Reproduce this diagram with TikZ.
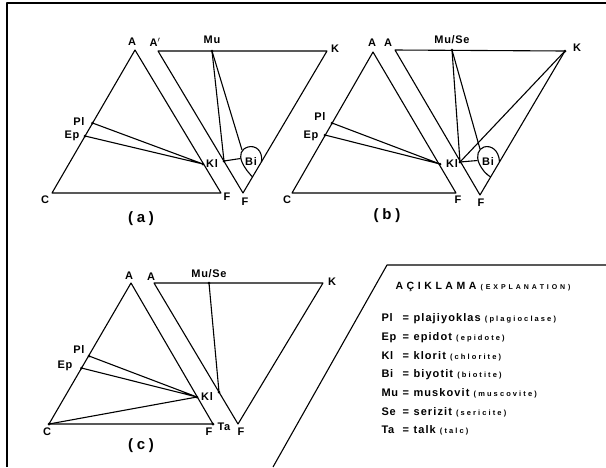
\documentclass[tikz,border=0pt]{standalone}
\usepackage{fontspec}
\setmainfont{Liberation Sans}
\newfontfamily\lblfont[LetterSpace=6]{Liberation Sans Bold}
\newfontfamily\capfont[LetterSpace=25]{Liberation Sans Bold}
\newfontfamily\headfont{Liberation Sans Bold}
\newfontfamily\notefont[LetterSpace=28]{Liberation Sans Bold}
\newfontfamily\wordfont[LetterSpace=10]{Liberation Sans Bold}

\tikzset{
  lbl/.style={inner sep=0pt, font=\lblfont\fontsize{11}{13}\selectfont},
  figcap/.style={inner sep=0pt, font=\capfont\fontsize{15}{17}\selectfont},
  legsym/.style={inner sep=0pt, anchor=base west, font=\lblfont\fontsize{11}{13}\selectfont},
  legword/.style={inner sep=0pt, anchor=base west, font=\wordfont\fontsize{11}{13}\selectfont},
}
\newcommand{\note}[1]{{\notefont\fontsize{7.5}{9}\selectfont(#1)}}

\begin{document}
\begin{tikzpicture}[x=1pt, y=-1pt, line width=1.1pt, line join=round]
        \useasboundingbox (0,0) rectangle (606,467);
        % frame
        \draw (7,467) -- (7,3) -- (606,3);

        % Diagram (a)
        \coordinate (aA) at (135,50);
        \coordinate (aC) at (52,193);
        \coordinate (aF) at (221,193);
        \coordinate (aPl) at (92.5,123);
        \coordinate (aEp) at (85,136);
        \coordinate (aKl) at (203,164);
        \coordinate (aA2) at (158,51);
        \coordinate (aK) at (327,51);
        \coordinate (aF2) at (243,193);
        \coordinate (aMu) at (212,51);
        \coordinate (aKl2) at (224,161);
        \coordinate (aBi1) at (261.5,162);
        \coordinate (aBi2) at (252.5,177);
        \coordinate (aBiT) at (242,150);
        \coordinate (aBiL) at (240.5,158.5);

        \draw (aA) -- (aC) -- (aF) -- cycle;
        \draw (aPl) -- (aKl) -- (aEp);
        \draw (aA2) -- (aK) -- (aF2) -- cycle;
        \draw (aMu) -- (aKl2) -- (aBiL);
        \draw (aMu) -- (aBiT);
        \draw (aBi1) .. controls (263,150) and (255,145) .. (248,147)
              .. controls (241,149) and (239,155) .. (242,162)
              .. controls (245,169) and (249,173) .. (aBi2);
        \foreach \p in {aPl,aEp,aKl,aMu,aKl2}
            \fill (\p) circle [radius=1.5];

        \node[lbl] (aA-l) at (132,42) {A};
        \node[lbl] (aC-l) at (45,200) {C};
        \node[lbl] (aF-l) at (227,197) {F};
        \node[lbl] (aPl-l) at (79,122) {Pl};
        \node[lbl] (aEp-l) at (72,136) {Ep};
        \node[lbl] (aKl-l) at (212,164) {Kl};
        \node[lbl] (aA2-l) at (155,42) {A$'$};
        \node[lbl] (aMu-l) at (212,40) {Mu};
        \node[lbl] (aK-l) at (335,49) {K};
        \node[lbl] (aF2-l) at (245,202) {F};
        \node[lbl] (aBi-l) at (251,162) {Bi};
        \node[figcap] (a-cap) at (141,219) {(a)};

        % Diagram (b)
        \coordinate (bA) at (373,52);
        \coordinate (bC) at (292,193);
        \coordinate (bF) at (456,193);
        \coordinate (bPl) at (332,123);
        \coordinate (bEp) at (325,135);
        \coordinate (bKl) at (440,164);
        \coordinate (bA2) at (395,50);
        \coordinate (bK) at (565,51);
        \coordinate (bF2) at (480,195);
        \coordinate (bMu) at (452,50);
        \coordinate (bKl2) at (460,162);
        \coordinate (bBi1) at (499.5,162);
        \coordinate (bBi2) at (490.6,177);
        \coordinate (bBiT) at (480,149);
        \coordinate (bBiL) at (477.5,160.5);

        \draw (bA) -- (bC) -- (bF) -- cycle;
        \draw (bPl) -- (bKl) -- (bEp);
        \draw (bA2) -- (bK) -- (bF2) -- cycle;
        \draw (bMu) -- (bKl2) -- (bBiL);
        \draw (bMu) -- (bBiT);
        \draw (bK) -- (bKl2);
        \draw (bBi1) .. controls (499,150) and (491,145) .. (484,147)
              .. controls (478,149) and (476,156) .. (479,163)
              .. controls (482,170) and (486,174) .. (bBi2);
        \foreach \p in {bPl,bEp,bKl,bMu,bKl2,bK}
            \fill (\p) circle [radius=1.5];

        \node[lbl] (bA-l) at (372,43) {A};
        \node[lbl] (bC-l) at (287,200) {C};
        \node[lbl] (bF-l) at (458,200) {F};
        \node[lbl] (bPl-l) at (320,117) {Pl};
        \node[lbl] (bEp-l) at (311,136) {Ep};
        \node[lbl] (bKl-l) at (452,164) {Kl};
        \node[lbl] (bA2-l) at (388,43) {A};
        \node[lbl] (bMu-l) at (452,40) {Mu/Se};
        \node[lbl] (bK-l) at (577,48) {K};
        \node[lbl] (bF2-l) at (481,203) {F};
        \node[lbl] (bBi-l) at (488,162) {Bi};
        \node[figcap] (b-cap) at (387,216) {(b)};

        % Diagram (c)
        \coordinate (cA) at (131,283);
        \coordinate (cC) at (49,424);
        \coordinate (cF) at (213,424);
        \coordinate (cPl) at (89,356);
        \coordinate (cEp) at (81.5,368);
        \coordinate (cKl) at (197,397);
        \coordinate (cA2) at (154,283);
        \coordinate (cK) at (323,283);
        \coordinate (cF2) at (238,424);
        \coordinate (cMu) at (209,283);
        \coordinate (cKl2) at (219,392);

        \draw (cA) -- (cC) -- (cF) -- cycle;
        \draw (cPl) -- (cKl) -- (cEp);
        \draw (cC) -- (cKl);
        \draw (cA2) -- (cK) -- (cF2) -- cycle;
        \draw (cMu) -- (cKl2);
        \foreach \p in {cC,cF,cPl,cEp,cKl,cMu,cKl2}
            \fill (\p) circle [radius=1.5];

        \node[lbl] (cA-l) at (129,276) {A};
        \node[lbl] (cC-l) at (47,432) {C};
        \node[lbl] (cF-l) at (209,432) {F};
        \node[lbl] (cTa-l) at (224,427) {Ta};
        \node[lbl] (cPl-l) at (79,350) {Pl};
        \node[lbl] (cEp-l) at (65,366) {Ep};
        \node[lbl] (cKl-l) at (207,397) {Kl};
        \node[lbl] (cA2-l) at (151,277) {A};
        \node[lbl] (cMu-l) at (209,274) {Mu/Se};
        \node[lbl] (cK-l) at (332,282) {K};
        \node[lbl] (cF2-l) at (241,432) {F};
        \node[figcap] (c-cap) at (141,446) {(c)};

        % Explanation box
        \draw (273,467) -- (387,265) -- (606,265);
        \node[inner sep=0pt, anchor=base west] (head) at (395,289.3)
            {\headfont\fontsize{10.5}{12}\selectfont
             \makebox[81pt][s]{A\hfill Ç\hfill I\hfill K\hfill L\hfill A\hfill M\hfill A}\hspace{4pt}%
             \fontsize{7}{9}\selectfont
             \makebox[90pt][s]{(\hfill E\hfill X\hfill P\hfill L\hfill A\hfill N\hfill A\hfill T\hfill I\hfill O\hfill N\hfill )}};
        \foreach \s/\tr/\en [count=\i] in {Pl/plajiyoklas/plagioclase, Ep/epidot/epidote,
                Kl/klorit/chlorite, Bi/biyotit/biotite, Mu/muskovit/muscovite,
                Se/serizit/sericite, Ta/talk/talc} {
            \node[legsym] (sym\i) at (381,303+18.7*\i) {\s};
            \node[legsym] (eq\i) at (402,303+18.7*\i) {=};
            \node[legword] (word\i) at (413,303+18.7*\i) {\tr\ \note{\en}};
        }
\end{tikzpicture}
\end{document}
